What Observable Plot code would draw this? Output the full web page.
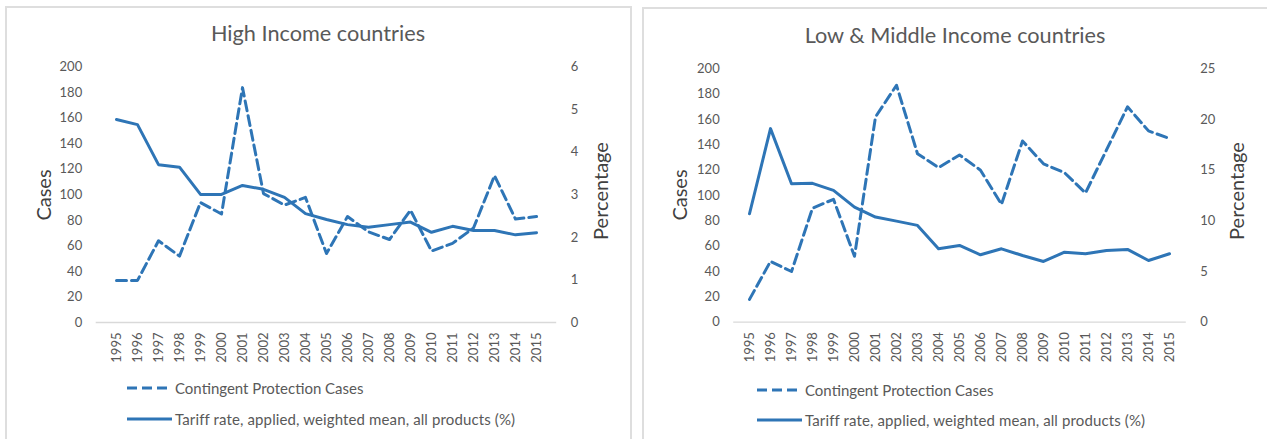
<!DOCTYPE html>
<html>
<head>
<meta charset="utf-8">
<script src="https://cdn.jsdelivr.net/npm/d3@7"></script>
<script src="https://cdn.jsdelivr.net/npm/@observablehq/plot@0.6"></script>
<style>
  html, body { margin: 0; padding: 0; background: #fff; }
  #root { position: relative; width: 1267px; height: 439px; overflow: hidden; font-family: Lato, "Open Sans", sans-serif; }
  .panel { position: absolute; border-top: 2px solid #dedede; border-left: 2px solid #dedede; border-right: 2px solid #dedede; height: 460px; box-sizing: border-box; }
  .title { position: absolute; transform: translate(-50%, -50%); font-size: 21.7px; color: #595959; white-space: nowrap; }
  .axtitle { position: absolute; transform: translate(-50%, -50%) rotate(-90deg); font-size: 20px; color: #404040; white-space: nowrap; }
  .leg { position: absolute; font-size: 15px; color: #595959; white-space: nowrap; display: flex; align-items: center; transform: translateY(-50%); }
  .leg svg { display: block; margin-right: 6px; }
  .plot { position: absolute; top: 0; }
</style>
</head>
<body>
<div id="root"></div>
<script>
const years = [1995,1996,1997,1998,1999,2000,2001,2002,2003,2004,2005,2006,2007,2008,2009,2010,2011,2012,2013,2014,2015];
const highCases  = [33,33,64,52,94,85,184,101,92,98,54,83,71,65,88,56,62,74,115,81,83];
const highTariff = [4.77,4.65,3.71,3.65,3.01,3.01,3.22,3.13,2.94,2.56,2.42,2.30,2.24,2.30,2.36,2.12,2.26,2.16,2.16,2.06,2.11];
const lowCases   = [18,48,40,90,97,52,162,187,133,122,132,120,93,143,125,118,102,136,170,151,145];
const lowTariff  = [10.7,19.1,13.66,13.7,13.0,11.35,10.37,9.97,9.55,7.24,7.57,6.65,7.24,6.58,5.99,6.91,6.75,7.08,7.18,6.09,6.75];
const caseTicks = [0,20,40,60,80,100,120,140,160,180,200];
const highPctTicks = [0,1,2,3,4,5,6];
const lowPctTicks = [0,5,10,15,20,25];
const titles = ["High Income countries", "Low & Middle Income countries"];
const legendLabels = ["Contingent Protection Cases", "Tariff rate, applied, weighted mean, all products (%)"];
const blue = "#2e75b6";

function chart({cases, tariff, pctMax, pctTicks, width, height, mt, mb, ml, mr}) {
  const k = 200 / pctMax;
  const rows = years.map((y, i) => ({year: y, cases: cases[i], tariff: tariff[i], tariffScaled: tariff[i] * k}));
  return Plot.plot({
    width, height,
    marginTop: mt, marginBottom: mb, marginLeft: ml, marginRight: mr,
    style: {fontFamily: "Lato, 'Open Sans', sans-serif", fontSize: "13px", color: "#595959", background: "transparent", overflow: "visible"},
    x: {type: "point", domain: years, padding: 0.5},
    y: {domain: [0, 200]},
    marks: [
      Plot.ruleY([0], {stroke: "#d9d9d9", strokeWidth: 1.3}),
      Plot.axisY({anchor: "left", ticks: caseTicks, tickSize: 0, tickPadding: 14, label: null}),
      Plot.axisY({anchor: "right", ticks: pctTicks.map(v => v * k), tickFormat: d => String(Math.round(d / k)), tickSize: 0, tickPadding: 14, label: null}),
      Plot.axisX({ticks: years, tickRotate: -90, tickSize: 0, tickPadding: 10, label: null, tickFormat: d => String(d)}),
      Plot.line(rows, {x: "year", y: "tariffScaled", stroke: blue, strokeWidth: 3}),
      Plot.line(rows, {x: "year", y: "cases", stroke: blue, strokeWidth: 3, strokeDasharray: "10,5"})
    ]
  });
}

const root = document.getElementById("root");
function add(html) { const d = document.createElement("div"); d.innerHTML = html; const el = d.firstElementChild; root.appendChild(el); return el; }

// panels
add(`<div class="panel" style="left:5px;top:6px;width:627px;"></div>`);
add(`<div class="panel" style="left:642px;top:7px;width:700px;"></div>`);

// left chart
const c1 = chart({cases: highCases, tariff: highTariff, pctMax: 6, pctTicks: highPctTicks,
  width: 636, height: 380, mt: 66.7, mb: 58, ml: 95.7, mr: 79.8});
c1.classList.add("plot"); c1.style.left = "0px"; root.appendChild(c1);

// right chart
const c2 = chart({cases: lowCases, tariff: lowTariff, pctMax: 25, pctTicks: lowPctTicks,
  width: 631, height: 380, mt: 68.3, mb: 58.3, ml: 97.2, mr: 81.2});
c2.classList.add("plot"); c2.style.left = "636px"; root.appendChild(c2);

// titles
const t1 = add(`<div class="title" style="left:318px;top:33px;"></div>`); t1.textContent = titles[0];
const t2 = add(`<div class="title" style="left:955px;top:35px;"></div>`); t2.textContent = titles[1];

// axis titles
add(`<div class="axtitle" style="left:43px;top:195px;">Cases</div>`);
add(`<div class="axtitle" style="left:600px;top:191px;">Percentage</div>`);
add(`<div class="axtitle" style="left:679px;top:195px;">Cases</div>`);
add(`<div class="axtitle" style="left:1236px;top:191px;">Percentage</div>`);

// legends
function legend(x, y, dashed, label, len) {
  const el = add(`<div class="leg" style="left:${x}px;top:${y}px;"><svg width="${len}" height="6"><line x1="0" y1="3" x2="${len}" y2="3" stroke="${blue}" stroke-width="3" ${dashed ? 'stroke-dasharray="10,5"' : ''}/></svg><span></span></div>`);
  el.querySelector("span").textContent = label;
  el.querySelector("svg").style.marginRight = (dashed ? 8 : 3) + "px";
  if (!dashed) el.querySelector("span").style.letterSpacing = "0.12px";
}
legend(127, 388, true, legendLabels[0], 40);
legend(127, 419, false, legendLabels[1], 45);
legend(757, 390, true, legendLabels[0], 40);
legend(757, 420, false, legendLabels[1], 45);
</script>
</body>
</html>
